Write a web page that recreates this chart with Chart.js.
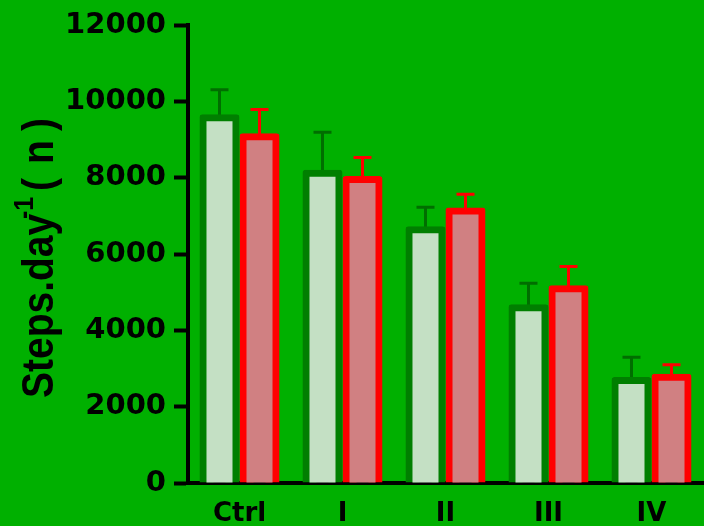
<!DOCTYPE html>
<html>
<head>
<meta charset="utf-8">
<script src="https://cdn.jsdelivr.net/npm/chart.js@4.4.1/dist/chart.umd.min.js"></script>
<style>
  html, body { margin: 0; padding: 0; background: #00b000; }
  canvas { display: block; }
</style>
</head>
<body>
<canvas id="chart" width="704" height="526"></canvas>
<script>
// Group labels along the x axis
const categories = ['Ctrl', 'I', 'II', 'III', 'IV'];
// Mean daily steps and upper error (SD) for the two series
const seriesOneMeans  = [9580, 8120, 6640, 4595, 2690];
const seriesOneErrors = [730, 1080, 590, 640, 610];
const seriesTwoMeans  = [9080, 7960, 7135, 5095, 2770];
const seriesTwoErrors = [715, 575, 440, 580, 330];
// Values shown on the y axis
const yTickValues = [0, 2000, 4000, 6000, 8000, 10000, 12000];

const BG = '#00b000';

// Paint the full canvas background
const background = {
  id: 'background',
  beforeDraw(chart) {
    const ctx = chart.ctx;
    ctx.save();
    ctx.fillStyle = BG;
    ctx.fillRect(0, 0, chart.width, chart.height);
    ctx.restore();
  }
};

// Upward error bars with a flat cap, drawn beneath the bars
const errorBars = {
  id: 'errorBars',
  beforeDatasetsDraw(chart) {
    const ctx = chart.ctx;
    const yScale = chart.scales.y;
    chart.data.datasets.forEach((ds, i) => {
      const meta = chart.getDatasetMeta(i);
      meta.data.forEach((bar, j) => {
        const top = yScale.getPixelForValue(ds.data[j] + ds.errors[j]);
        ctx.save();
        ctx.strokeStyle = ds.errorColor;
        ctx.lineWidth = 3;
        ctx.beginPath();
        ctx.moveTo(bar.x, bar.y);
        ctx.lineTo(bar.x, top);
        ctx.moveTo(bar.x - 9, top);
        ctx.lineTo(bar.x + 9, top);
        ctx.stroke();
        ctx.restore();
      });
    });
  }
};

// Rotated y-axis title with a superscript exponent
const yTitle = {
  id: 'yTitle',
  afterDraw(chart) {
    const ctx = chart.ctx;
    const family = '"Liberation Sans", Arial, sans-serif';
    ctx.save();
    ctx.translate(53, 398);
    ctx.rotate(-Math.PI / 2);
    ctx.scale(1, 1.14);
    ctx.fillStyle = '#000';
    ctx.textBaseline = 'alphabetic';
    ctx.textAlign = 'left';
    ctx.font = 'bold 39px ' + family;
    ctx.fillText('Steps.day', 0, 0);
    ctx.font = 'bold 25px ' + family;
    ctx.fillText('-1', 179, -17.5);
    ctx.font = 'bold 39px ' + family;
    ctx.fillText('(', 207, 0);
    ctx.fillText('n', 234, 0);
    ctx.fillText(')', 267, 0);
    ctx.restore();
  }
};

const barCommon = {
  borderWidth: 7,
  borderSkipped: 'start',
  borderRadius: 3,
  inflateAmount: 3.5,
  categoryPercentage: 0.777,
  barPercentage: 0.825
};

new Chart(document.getElementById('chart'), {
  type: 'bar',
  data: {
    labels: categories,
    datasets: [
      Object.assign({
        label: 'Series 1',
        data: seriesOneMeans,
        errors: seriesOneErrors,
        backgroundColor: '#c4e0c4',
        borderColor: '#007f00',
        errorColor: '#006e00'
      }, barCommon),
      Object.assign({
        label: 'Series 2',
        data: seriesTwoMeans,
        errors: seriesTwoErrors,
        backgroundColor: '#d08082',
        borderColor: '#ff0000',
        errorColor: '#ff0000'
      }, barCommon)
    ]
  },
  options: {
    responsive: false,
    animation: false,
    devicePixelRatio: 1,
    layout: { padding: { top: 25, right: 1, bottom: 0, left: 0 } },
    plugins: {
      legend: { display: false },
      tooltip: { enabled: false }
    },
    scales: {
      x: {
        afterFit(scale) { scale.height = 43; },
        border: { display: true, color: '#000', width: 4 },
        grid: { display: false },
        ticks: {
          color: '#000',
          padding: 8,
          font: { family: 'DejaVu Sans', weight: 'bold', size: 26 }
        }
      },
      y: {
        min: 0,
        max: 12000,
        afterBuildTicks(scale) {
          scale.ticks = yTickValues.map(v => ({ value: v }));
        },
        afterFit(scale) { scale.width = 188; },
        border: { display: true, color: '#000', width: 4 },
        grid: {
          drawOnChartArea: false,
          drawTicks: true,
          tickLength: 14,
          tickWidth: 4,
          tickColor: '#000'
        },
        ticks: {
          color: '#000',
          padding: 8,
          font: { family: 'DejaVu Sans', weight: 'bold', size: 29 },
          callback: v => String(v)
        }
      }
    }
  },
  plugins: [background, errorBars, yTitle]
});
</script>
</body>
</html>
